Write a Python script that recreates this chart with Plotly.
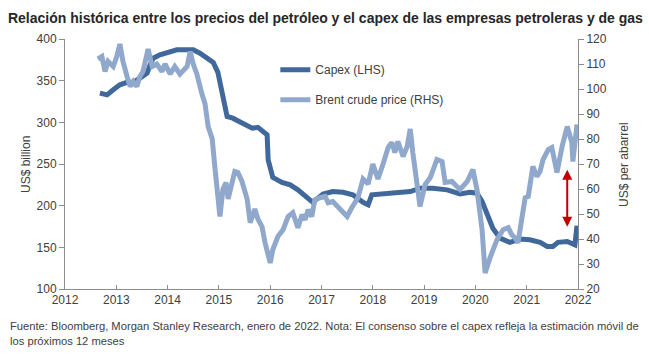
import plotly.graph_objects as go

# ---- Data ----
capex_years = [2012.68, 2012.82, 2012.94, 2013.07, 2013.21, 2013.33, 2013.46, 2013.60, 2013.66, 2013.72,
               2013.85, 2013.99, 2014.18, 2014.38, 2014.50, 2014.63, 2014.77, 2014.89, 2014.98, 2015.06,
               2015.12, 2015.16, 2015.27, 2015.47, 2015.65, 2015.76, 2015.88, 2015.94, 2015.96, 2016.05,
               2016.23, 2016.39, 2016.54, 2016.72, 2016.83, 2017.03, 2017.22, 2017.42, 2017.61, 2017.81,
               2017.91, 2017.98, 2018.20, 2018.47, 2018.73, 2018.92, 2019.17, 2019.45, 2019.70, 2019.89,
               2020.03, 2020.13, 2020.23, 2020.34, 2020.48, 2020.67, 2020.87, 2021.06, 2021.26, 2021.40,
               2021.51, 2021.61, 2021.79, 2021.94, 2021.98]
capex_values = [335, 333, 339, 345, 348, 348, 353, 359, 369, 377,
                381, 384, 387, 387, 387, 383, 378, 372, 360, 335,
                315, 307, 305, 299, 293, 294, 288, 285, 255, 234,
                228, 225, 219, 210, 204, 214, 217, 216, 213, 204,
                201, 213, 214, 216, 217, 221, 221, 219, 214, 216,
                215, 205, 188, 173, 161, 156, 160, 159, 156, 151,
                151, 156, 157, 153, 176]

brent_years = [2012.64, 2012.72, 2012.78, 2012.84, 2012.94, 2013.01, 2013.07, 2013.13, 2013.21, 2013.27,
               2013.33, 2013.40, 2013.46, 2013.52, 2013.62, 2013.70, 2013.79, 2013.89, 2013.95, 2014.05,
               2014.14, 2014.24, 2014.38, 2014.44, 2014.50, 2014.57, 2014.67, 2014.73, 2014.79, 2014.87,
               2014.92, 2014.98, 2015.02, 2015.08, 2015.14, 2015.18, 2015.26, 2015.31, 2015.37, 2015.45,
               2015.55, 2015.61, 2015.70, 2015.76, 2015.84, 2015.90, 2016.00, 2016.05, 2016.15, 2016.25,
               2016.35, 2016.44, 2016.54, 2016.62, 2016.68, 2016.74, 2016.81, 2016.87, 2016.97, 2017.07,
               2017.13, 2017.22, 2017.36, 2017.50, 2017.59, 2017.71, 2017.81, 2017.91, 2018.00, 2018.10,
               2018.20, 2018.30, 2018.37, 2018.43, 2018.49, 2018.59, 2018.67, 2018.73, 2018.78, 2018.86,
               2018.92, 2019.02, 2019.12, 2019.25, 2019.35, 2019.41, 2019.54, 2019.70, 2019.84, 2019.95,
               2020.03, 2020.13, 2020.19, 2020.29, 2020.42, 2020.54, 2020.64, 2020.71, 2020.77, 2020.83,
               2020.91, 2020.97, 2021.03, 2021.10, 2021.12, 2021.20, 2021.26, 2021.32, 2021.42, 2021.49,
               2021.55, 2021.59, 2021.69, 2021.79, 2021.88, 2021.90, 2021.98]
brent_values = [112, 113, 107, 111, 109, 113, 118, 111, 105, 101,
                103, 101, 105, 107, 116, 109, 110, 107, 110, 106,
                109, 106, 109, 115, 110, 106, 98, 94, 85, 80,
                69, 58.5, 49, 60, 62.6, 56, 62.6, 67, 66.6, 63,
                56, 46.5, 52, 48, 45, 38.5, 30.4, 35.7, 41, 43.7,
                49, 50.5, 44.5, 49.7, 47.7, 51.7, 49, 55.7, 56.5, 57,
                54.5, 55, 52, 49, 52.5, 56.5, 64, 62, 70, 64,
                70, 76.6, 78.6, 74.6, 79, 73, 77, 84, 74.6, 61,
                53, 61.8, 64.6, 71.8, 71, 62.6, 63, 59.8, 63, 67.8,
                59.8, 43.7, 26.4, 32.8, 39.7, 43.7, 44.5, 41.7, 40.5, 38.5,
                49, 56.5, 57, 65, 69, 65, 67, 71.8, 75.8, 76.6,
                70.6, 66.6, 77, 85, 78.6, 71, 85.8]

year_ticks = list(range(2012, 2023))
left_ticks = [100, 150, 200, 250, 300, 350, 400]
right_ticks = [20, 30, 40, 50, 60, 70, 80, 90, 100, 110, 120]

# gap arrow (capex scale) at end of 2021
arrow_year = 2021.79
arrow_top = 243
arrow_bottom = 173

FONT = "Liberation Sans Narrow, Arial Narrow, Liberation Sans, Arial, sans-serif"
TXT = "#404040"
AX = "#8c8c8c"

fig = go.Figure()
fig.add_trace(go.Scatter(x=capex_years, y=capex_values, mode="lines", name="Capex (LHS)",
                         line=dict(color="#41689b", width=5), legendgroup="a"))
fig.add_trace(go.Scatter(x=brent_years, y=brent_values, mode="lines", name="Brent crude price (RHS)",
                         line=dict(color="#91a8cd", width=5), yaxis="y2", legendgroup="b"))

fig.add_annotation(x=arrow_year, y=arrow_top, ax=arrow_year, ay=arrow_bottom,
                   xref="x", yref="y", axref="x", ayref="y", text="",
                   showarrow=True, arrowhead=2, arrowside="end+start",
                   arrowsize=1, arrowwidth=2, arrowcolor="#c00000")

fig.add_annotation(xref="paper", yref="paper", x=-0.111, y=-0.118, xanchor="left", yanchor="top",
                   align="left", showarrow=False,
                   text="Fuente: Bloomberg, Morgan Stanley Research, enero de 2022. Nota: El consenso sobre el capex refleja la estimación móvil de<br>los próximos 12 meses",
                   font=dict(family=FONT, size=11.2, color=TXT))
fig.add_annotation(xref="paper", yref="paper", x=-0.076, y=0.496, xanchor="center", yanchor="middle",
                   textangle=-90, showarrow=False,
                   text="US$ billion", font=dict(family=FONT, size=12, color=TXT))
fig.add_annotation(xref="paper", yref="paper", x=1.0897, y=0.496, xanchor="center", yanchor="middle",
                   textangle=-90, showarrow=False,
                   text="US$ per abarrel", font=dict(family=FONT, size=12, color=TXT))

fig.update_layout(
    width=649, height=358,
    margin=dict(l=65, r=71, t=39, b=69),
    paper_bgcolor="white", plot_bgcolor="white",
    title=dict(text="<b>Relación histórica entre los precios del petróleo y el capex de las empresas petroleras y de gas</b>",
               x=0.0123, xref="container", xanchor="left", y=0.962, yref="container",
               font=dict(family=FONT, size=14, color="#262626")),
    font=dict(family=FONT, size=12, color=TXT),
    showlegend=True,
    legend=dict(x=0.41, y=0.935, xanchor="left", yanchor="top", bgcolor="rgba(0,0,0,0)",
                font=dict(family=FONT, size=12, color=TXT), tracegroupgap=11, traceorder="grouped"),
    xaxis=dict(range=[2012, 2022], tickvals=year_ticks, ticktext=[str(y) for y in year_ticks],
               showgrid=False, zeroline=False, showline=True, linecolor=AX, linewidth=1,
               ticks="inside", ticklen=4, tickcolor=AX, tickfont=dict(size=12, color=TXT),
               automargin=False),
    yaxis=dict(range=[100, 400], tickvals=left_ticks, showgrid=False, zeroline=False,
               showline=True, linecolor=AX, linewidth=1, ticks="outside", ticklen=5, tickcolor=AX,
               tickfont=dict(size=12, color=TXT), automargin=False),
    yaxis2=dict(range=[20, 120], tickvals=right_ticks, overlaying="y", side="right",
                showgrid=False, zeroline=False, showline=True, linecolor=AX, linewidth=1,
                ticks="outside", ticklen=5, tickcolor=AX, tickfont=dict(size=12, color=TXT),
                automargin=False),
)

fig.write_html("out.html", config={"displayModeBar": False},
               post_script="document.body.style.margin='0';")
